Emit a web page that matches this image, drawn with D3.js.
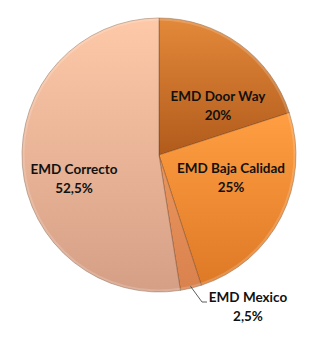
<!DOCTYPE html>
<html>
    <head>
        <meta charset="utf-8">
        <script src="https://cdn.jsdelivr.net/npm/d3@7"></script>
        <style>
            body{
                margin: 0;
                background: #fff;
            }
            .label{
                font-family: Lato, "Open Sans", sans-serif;
                font-weight: 700;
                font-size: 13.5px;
                fill: #111;
            }
        </style>
    </head>
    <body>
        <svg id="chart" width=314 height=337></svg>
    </body>
    <script>
        const categories = ["EMD Door Way", "EMD Baja Calidad", "EMD Mexico", "EMD Correcto"]
        const values = [20, 25, 2.5, 52.5]
        const valueLabels = ["20%", "25%", "2,5%", "52,5%"]

        // top / bottom colour of each slice's gradient
        const palette = [
            ["#e3893a", "#b15b1c"],
            ["#ff9e42", "#de7926"],
            ["#eb955e", "#d9824e"],
            ["#fdc9a8", "#d59f86"]
        ]
        // label centres (slice local tweaks)
        const labelPos = [[218, 96], [231, 168], [248, 297], [74, 169]]

        const svg = d3.select("#chart")
        const cx = 159, cy = 155, r = 137

        const defs = svg.append("defs")
        palette.forEach((p, i)=>{
            const g = defs.append("linearGradient")
                .attr("id", "grad"+i)
                .attr("x1", 0).attr("y1", 0).attr("x2", 0).attr("y2", 1)
            g.append("stop").attr("offset", "0%").attr("stop-color", p[0])
            g.append("stop").attr("offset", "100%").attr("stop-color", p[1])
        })

        const pie = d3.pie().sort(null).value(d=>d)
        const arcs = pie(values)
        const arc = d3.arc().innerRadius(0).outerRadius(r)
        const rim = d3.arc().innerRadius(r-2.5).outerRadius(r)

        const body = svg.append("g").attr("transform", `translate(${cx},${cy})`)

        body.selectAll("path.slice")
            .data(arcs)
            .enter()
            .append("path")
            .attr("class", "slice")
            .attr("d", arc)
            .attr("fill", (d, i)=>`url(#grad${i})`)
            .attr("stroke", "rgba(90,50,20,0.45)")
            .attr("stroke-width", 0.8)

        // soft light bevel along the rim
        body.selectAll("path.rim")
            .data(arcs)
            .enter()
            .append("path")
            .attr("class", "rim")
            .attr("d", rim)
            .attr("fill", "rgba(255,255,255,0.18)")

        // leader line for the small slice
        const mid = (arcs[2].startAngle + arcs[2].endAngle)/2
        const p0 = [cx + Math.sin(mid)*(r-2), cy - Math.cos(mid)*(r-2)]
        svg.append("polyline")
            .attr("points", [p0, [202, 302], [207, 302]].map(p=>p.join(",")).join(" "))
            .attr("fill", "none")
            .attr("stroke", "#333")
            .attr("stroke-width", 0.8)

        const labels = svg.selectAll("text.label")
            .data(categories)
            .enter()
            .append("text")
            .attr("class", "label")
            .attr("text-anchor", "middle")
            .attr("x", (d, i)=>labelPos[i][0])
            .attr("y", (d, i)=>labelPos[i][1])

        labels.append("tspan")
            .attr("x", (d, i)=>labelPos[i][0])
            .attr("dy", "0.35em")
            .text(d=>d)
        labels.append("tspan")
            .attr("x", (d, i)=>labelPos[i][0])
            .attr("dy", "1.45em")
            .text((d, i)=>valueLabels[i])
    </script>
</html>
